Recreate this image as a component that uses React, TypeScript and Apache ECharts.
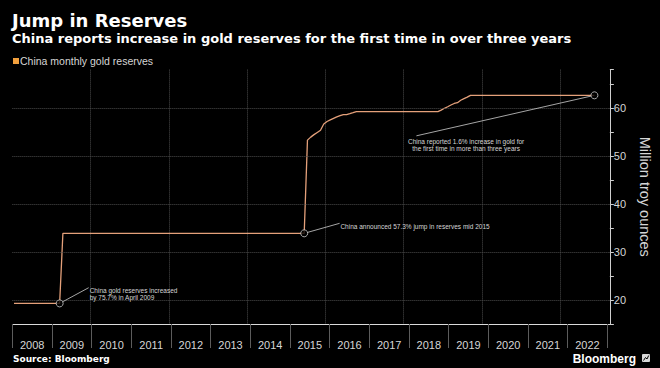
import { useEffect, useRef } from "react";
import * as echarts from "echarts";

const titleText = "Jump in Reserves";
const subtitleText =
  "China reports increase in gold reserves for the first time in over three years";
const seriesName = "China monthly gold reserves";
const yAxisName = "Million troy ounces";
const sourceText = "Source: Bloomberg";
const brandText = "Bloomberg";

// Monthly reserves (million troy ounces), points where the level changes
const months = [
  "2008-01", "2009-03", "2009-04", "2015-06", "2015-07", "2015-08", "2015-09",
  "2015-10", "2015-11", "2015-12", "2016-01", "2016-02", "2016-03", "2016-04",
  "2016-05", "2016-06", "2016-07", "2016-08", "2016-09", "2016-10", "2018-11",
  "2018-12", "2019-01", "2019-02", "2019-03", "2019-04", "2019-05", "2019-06",
  "2019-07", "2019-08", "2019-09", "2022-11",
];
const reserves = [
  19.29, 19.29, 33.89, 33.89, 53.31, 53.93, 54.45,
  54.91, 55.37, 56.66, 57.18, 57.51, 57.84, 58.14,
  58.39, 58.62, 58.62, 58.81, 59.02, 59.24, 59.24,
  59.56, 59.94, 60.26, 60.62, 60.94, 61.1, 61.61,
  61.94, 62.26, 62.64, 62.64,
];

const yearLabels = [
  "2008", "2009", "2010", "2011", "2012", "2013", "2014", "2015",
  "2016", "2017", "2018", "2019", "2020", "2021", "2022",
];
const yGridValues = [20, 30, 40, 50, 60];

const annMonths = ["2009-03", "2015-06", "2022-11"];
const annValues = [19.29, 33.89, 62.64];
const annTexts = [
  "China gold reserves increased\nby 75.7% in April 2009",
  "China announced 57.3% jump in reserves mid 2015",
  "China reported 1.6% increase in gold for\nthe first time in more than three years",
];

const toX = (m: string) => {
  const [y, mo] = m.split("-").map(Number);
  return y + (mo - 0.5) / 12;
};

const LINE_COLOR = "#e4a07a";
const TEXT_COLOR = "#d6d6d6";
const GRID_COLOR = "#4c4c4c";

export default function App() {
  const ref = useRef<HTMLDivElement>(null);

  useEffect(() => {
    document.body.style.margin = "0";
    document.body.style.background = "#000";
    const chart = echarts.init(ref.current!, null, { renderer: "svg" });
    const lineData = months.map((m, i) => [toX(m), reserves[i]]);
    const annData = annMonths.map((m, i) => [toX(m), annValues[i]]);

    chart.setOption({
      animation: false,
      backgroundColor: "#000",
      grid: [
        { left: 12.36, right: 42.5, top: 69.6, bottom: 44 },
        { left: 12.36, right: 52.7, top: 300, bottom: 44 },
      ],
      legend: {
        left: 13,
        top: 55.5,
        padding: 0,
        itemWidth: 6,
        itemHeight: 6,
        icon: "rect",
        selectedMode: false,
        data: [{ name: seriesName, itemStyle: { color: "#f2a03d" } }],
        textStyle: {
          color: TEXT_COLOR,
          fontSize: 10.5,
          fontFamily: "Liberation Sans",
          padding: [0, 0, 0, -4],
        },
      },
      xAxis: [
        {
          type: "value",
          gridIndex: 0,
          min: 2008,
          max: 2023.27,
          interval: 2,
          axisLine: { show: true, onZero: false, lineStyle: { color: "#dadada", width: 1 } },
          axisTick: { show: false },
          axisLabel: { show: false },
          splitLine: {
            show: true,
            showMinLine: false,
            showMaxLine: false,
            lineStyle: { color: GRID_COLOR, type: "dotted", width: 1 },
          },
        },
        {
          type: "category",
          gridIndex: 1,
          data: yearLabels,
          boundaryGap: true,
          axisLine: { show: false },
          axisTick: { show: true, interval: 0, length: 24, lineStyle: { color: "#5c5c5c" } },
          axisLabel: {
            interval: 0,
            margin: 15,
            color: TEXT_COLOR,
            fontSize: 11,
            fontFamily: "Liberation Sans",
          },
          splitLine: { show: false },
        },
      ],
      yAxis: [
        {
          type: "value",
          gridIndex: 0,
          position: "right",
          min: 15,
          max: 68,
          interval: 5,
          axisLine: { show: true, lineStyle: { color: "#cfcfcf", width: 1 } },
          axisTick: { show: true, length: 4, lineStyle: { color: "#cfcfcf" } },
          axisLabel: {
            formatter: (v: number) => (v % 10 === 0 ? String(v) : ""),
            margin: 4,
            color: TEXT_COLOR,
            fontSize: 11,
            fontFamily: "Liberation Sans",
          },
          splitLine: { show: false },
          name: yAxisName,
          nameLocation: "middle",
          nameRotate: -90,
          nameGap: 24,
          nameTextStyle: { color: TEXT_COLOR, fontSize: 14.5, fontFamily: "Liberation Sans" },
        },
        { type: "value", gridIndex: 1, show: false },
      ],
      series: [
        {
          type: "line",
          name: "grid",
          xAxisIndex: 0,
          yAxisIndex: 0,
          data: [],
          z: 1,
          silent: true,
          markLine: {
            silent: true,
            symbol: "none",
            label: { show: false },
            lineStyle: { color: GRID_COLOR, type: "dotted", width: 1 },
            data: yGridValues.map((v) => ({ yAxis: v })),
          },
        },
        {
          type: "line",
          name: seriesName,
          xAxisIndex: 0,
          yAxisIndex: 0,
          data: lineData,
          showSymbol: false,
          lineStyle: { color: LINE_COLOR, width: 1.3 },
          itemStyle: { color: LINE_COLOR },
          z: 3,
          silent: true,
        },
        {
          type: "scatter",
          name: "annotations",
          xAxisIndex: 0,
          yAxisIndex: 0,
          data: annData,
          symbol: "circle",
          symbolSize: 7,
          itemStyle: { color: "#000", borderColor: "#cfcfcf", borderWidth: 1 },
          z: 5,
          silent: true,
        },
      ],
    });

    const px = (p: number[]) => chart.convertToPixel({ gridIndex: 0 }, p) as number[];
    const pts = annData.map(px);
    const offsets = [
      { end: [29, -15.7], text: [30, -16], align: "left", va: "top" },
      { end: [35.4, -10], text: [36.2, -7.3], align: "left", va: "middle" },
      { end: [-178, 40.5], text: [-128.3, 42.3], align: "center", va: "top" },
    ];
    const annGraphics: any[] = [];
    pts.forEach((p, i) => {
      const o = offsets[i];
      const ex = p[0] + o.end[0];
      const ey = p[1] + o.end[1];
      const d = Math.hypot(ex - p[0], ey - p[1]);
      const sx = p[0] + ((ex - p[0]) / d) * 3.5;
      const sy = p[1] + ((ey - p[1]) / d) * 3.5;
      annGraphics.push({
        type: "line",
        silent: true,
        shape: { x1: sx, y1: sy, x2: ex, y2: ey },
        style: { stroke: "#cfcfcf", lineWidth: 0.8 },
        z: 10,
      });
      annGraphics.push({
        type: "text",
        silent: true,
        x: p[0] + o.text[0],
        y: p[1] + o.text[1],
        z: 10,
        style: {
          text: annTexts[i],
          fill: TEXT_COLOR,
          fontSize: 6.5,
          fontFamily: "Liberation Sans",
          lineHeight: 7,
          align: o.align,
          verticalAlign: o.va,
        },
      });
    });

    chart.setOption({
      graphic: [
        {
          type: "text",
          silent: true,
          x: 12,
          y: 20,
          style: {
            text: titleText,
            fill: "#ffffff",
            fontSize: 18,
            fontWeight: "bold",
            fontFamily: "DejaVu Sans",
            align: "left",
            verticalAlign: "middle",
          },
        },
        {
          type: "text",
          silent: true,
          x: 12,
          y: 38,
          style: {
            text: subtitleText,
            fill: "#ffffff",
            fontSize: 13,
            fontWeight: "bold",
            fontFamily: "DejaVu Sans",
            align: "left",
            verticalAlign: "middle",
          },
        },
        {
          type: "text",
          silent: true,
          x: 13,
          y: 359,
          style: {
            text: sourceText,
            fill: "#ffffff",
            fontSize: 9,
            fontWeight: "bold",
            fontFamily: "DejaVu Sans",
            align: "left",
            verticalAlign: "middle",
          },
        },
        {
          type: "text",
          silent: true,
          x: 572.7,
          y: 359,
          style: {
            text: brandText,
            fill: "#ffffff",
            fontSize: 12,
            fontWeight: "bold",
            fontFamily: "Liberation Sans",
            align: "left",
            verticalAlign: "middle",
          },
        },
        {
          type: "rect",
          silent: true,
          shape: { x: 642, y: 354, width: 8, height: 8, r: 1 },
          style: { fill: "#d8d8d8" },
        },
        {
          type: "polyline",
          silent: true,
          shape: { points: [[643.5, 360.5], [645.5, 357.5], [647, 359], [648.7, 355.5]] },
          style: { stroke: "#000", lineWidth: 1, fill: "none" },
        },
        ...annGraphics,
      ],
    });

    return () => chart.dispose();
  }, []);

  return <div ref={ref} style={{ width: 660, height: 368, background: "#000" }} />;
}
